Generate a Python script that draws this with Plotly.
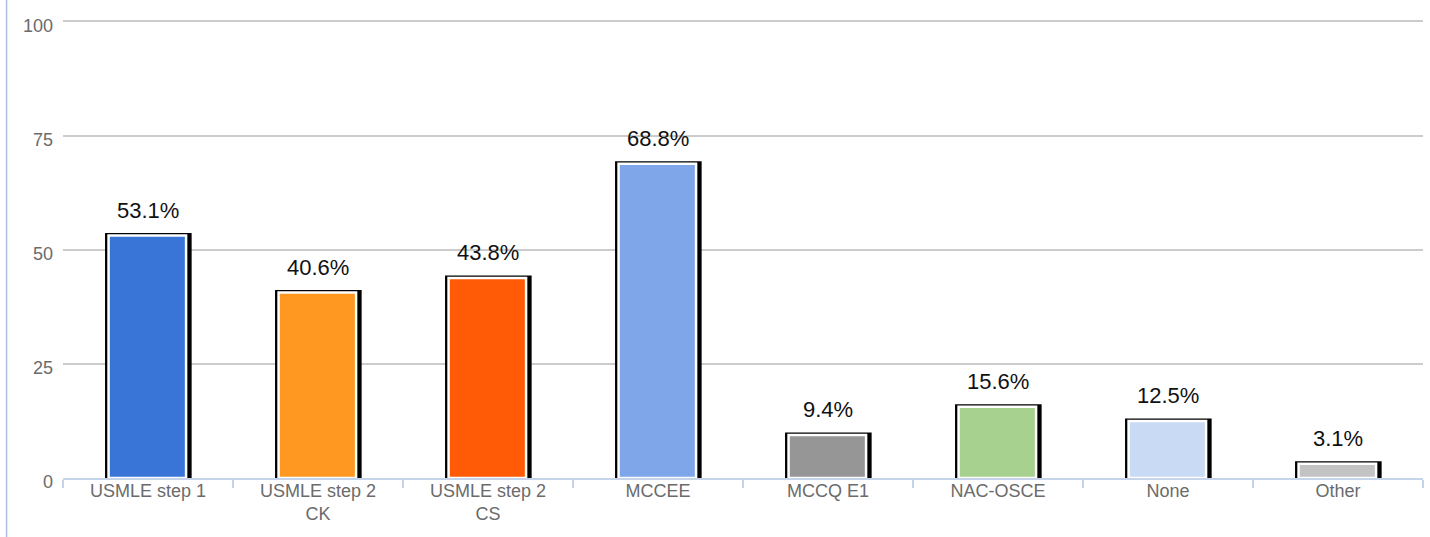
import plotly.graph_objects as go

categories = ["USMLE step 1", "USMLE step 2<br>CK", "USMLE step 2<br>CS", "MCCEE",
              "MCCQ E1", "NAC-OSCE", "None", "Other"]
values = [53.1, 40.6, 43.8, 68.8, 9.4, 15.6, 12.5, 3.1]
labels = ["53.1%", "40.6%", "43.8%", "68.8%", "9.4%", "15.6%", "12.5%", "3.1%"]
colors = ["#3875d7", "#ff9820", "#ff5a05", "#7fa6e8", "#969696", "#a6d18e", "#c9daf4", "#c3c3c3"]
y_ticks = [0, 25, 50, 75, 100]

FONT = "Liberation Sans, Arial, sans-serif"

fig = go.Figure()

# black outline / shadow bar
fig.add_trace(go.Bar(
    x=categories, y=values,
    width=0.48, offset=-0.238,
    marker=dict(color="#000000", line=dict(color="#000000", width=5)),
    hoverinfo="skip", showlegend=False,
))
# coloured bar with white inner border
fig.add_trace(go.Bar(
    x=categories, y=values,
    width=0.456, offset=-0.232,
    marker=dict(color=colors, line=dict(color="#ffffff", width=2.5)),
    showlegend=False,
))

for c, v, t in zip(categories, values, labels):
    fig.add_annotation(
        x=c, y=v, text=t, showarrow=False, yanchor="bottom", yshift=11,
        font=dict(family=FONT, size=22, color="#111111"),
    )

fig.update_layout(
    width=1430, height=537,
    margin=dict(l=63, r=7, t=20, b=59, autoexpand=False),
    paper_bgcolor="#ffffff", plot_bgcolor="#ffffff",
    barmode="overlay",
    font=dict(family=FONT, size=18, color="#6b6b6b"),
    showlegend=False,
    shapes=[dict(type="line", xref="paper", yref="paper",
                 x0=-0.0415, x1=-0.0415, y0=-0.13, y1=1.05,
                 line=dict(color="#a9bfdd", width=1.5))],
)
fig.update_xaxes(
    showgrid=False, showline=True, linecolor="#c6d4ea", linewidth=2, automargin=False,
    ticks="outside", tickson="boundaries", ticklen=8, tickcolor="#c6d4ea", tickwidth=1.5,
    ticklabelstandoff=-5,
    tickfont=dict(family=FONT, size=18, color="#6b6b6b"),
)
fig.update_yaxes(
    range=[0, 100.3], tickvals=y_ticks, showgrid=True, gridcolor="#cccccc", gridwidth=1.5,
    zeroline=False, showline=False, ticks="", ticklabelstandoff=9, ticklabelshift=4,
    automargin=False,
    tickfont=dict(family=FONT, size=18, color="#6b6b6b"),
)

fig.write_html("out.html", config={"displayModeBar": False},
               post_script="document.body.style.margin='0';")
